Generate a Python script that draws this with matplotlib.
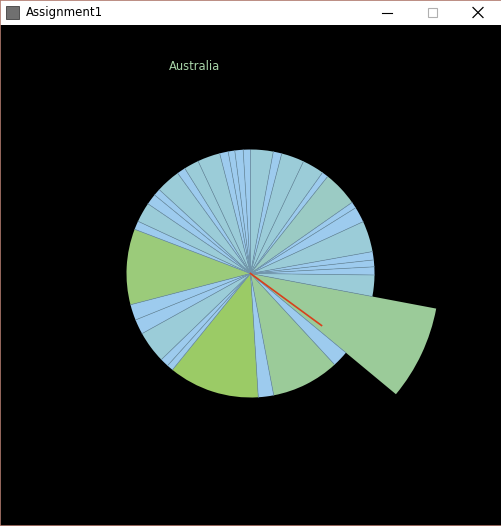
import numpy as np
import matplotlib
matplotlib.use("Agg")
import matplotlib.pyplot as plt
from matplotlib.lines import Line2D
from matplotlib.patches import Rectangle

# wedge data, clockwise from 12 o'clock
# angular share of each slice (degrees) and its radius
slice_deg = [10.6, 4.0, 10.7, 10.2, 3.0, 16.5, 3.0, 7.3, 14.5, 3.9, 3.2, 3.8,
             10.0, 29.0, 7.6, 31.9, 7.2, 42.6, 3.0, 4.0, 15.0, 7.0, 7.4, 35.5,
             4.0, 9.3, 5.1, 3.3, 11.4, 4.0, 7.0, 10.6, 4.0, 3.1, 3.9, 3.4]
slice_radius = [124] * 36
slice_radius[13] = 189
slice_kind = ["teal", "blue", "teal", "teal", "blue", "mint", "blue", "blue",
              "teal", "blue", "blue", "blue", "teal", "lgreen", "blue", "lgreen",
              "blue", "ygreen", "blue", "blue", "teal", "blue", "blue", "green",
              "blue", "teal", "blue", "blue", "teal", "blue", "teal", "teal",
              "blue", "blue", "blue", "blue"]
title = "Australia"
pointer_deg = 126.2   # clockwise from top
pointer_len = 88

palette = {
    "blue": "#9dcbee",
    "teal": "#9bccd8",
    "mint": "#9bcbc4",
    "lgreen": "#9bcb99",
    "ygreen": "#9bcb66",
    "green": "#9bcb7a",
}

W, H = 502, 526
fig = plt.figure(figsize=(W / 100, H / 100), dpi=100)
fig.patch.set_facecolor("black")


def fx(px):
    return px / W


def fy(py):
    return 1 - py / H


# window title bar
fig.add_artist(Rectangle((0, fy(25)), 1, 25 / H, transform=fig.transFigure,
                         facecolor="white", edgecolor="none"))
fig.add_artist(Rectangle((fx(6), fy(19)), 13 / W, 13 / H, transform=fig.transFigure,
                         facecolor="#707070", edgecolor="#404040", lw=0.6))
fig.text(fx(26), fy(12.5), "Assignment1", fontsize=8.5, color="black",
         va="center", ha="left")
fig.add_artist(Line2D([fx(382), fx(392)], [fy(12.5), fy(12.5)], color="black", lw=0.8))
fig.add_artist(Rectangle((fx(428), fy(17)), 9 / W, 9 / H, transform=fig.transFigure,
                         facecolor="none", edgecolor="#b0b0b0", lw=0.8))
fig.add_artist(Line2D([fx(473), fx(483)], [fy(7.5), fy(17.5)], color="black", lw=0.9))
fig.add_artist(Line2D([fx(473), fx(483)], [fy(17.5), fy(7.5)], color="black", lw=0.9))
# window border
fig.add_artist(Rectangle((0, 0), 1, 1, transform=fig.transFigure,
                         facecolor="none", edgecolor="#b07a6e", lw=1.2))

fig.text(fx(195), fy(67), title, fontsize=8.3, color="#a8d4a8", ha="center", va="center")

# polar axes centred on the pie, half size 200 px -> radius in px
cx, cy, half = 250.5, 273.5, 200
ax = fig.add_axes([fx(cx - half), fy(cy + half), 2 * half / W, 2 * half / H],
                  projection="polar")
ax.set_theta_offset(np.pi / 2)
ax.set_theta_direction(-1)
ax.set_ylim(0, half)
ax.set_facecolor("none")
ax.axis("off")

widths = np.radians(slice_deg)
starts = np.concatenate([[0], np.cumsum(widths)[:-1]])
colors = [palette[k] for k in slice_kind]
ax.bar(starts, slice_radius, width=widths, bottom=0, align="edge",
       color=colors, edgecolor="none", linewidth=0, antialiased=True)

# thin radial separators between neighbouring slices
n = len(slice_deg)
for i in range(n):
    r = min(slice_radius[i], slice_radius[i - 1])
    ax.plot([starts[i], starts[i]], [0, r], color="#7196ab", lw=0.5)

ax.plot([np.radians(pointer_deg)] * 2, [0, pointer_len], color="#d8401c", lw=1.2)

fig.savefig("out.png", dpi=100, facecolor="black")
